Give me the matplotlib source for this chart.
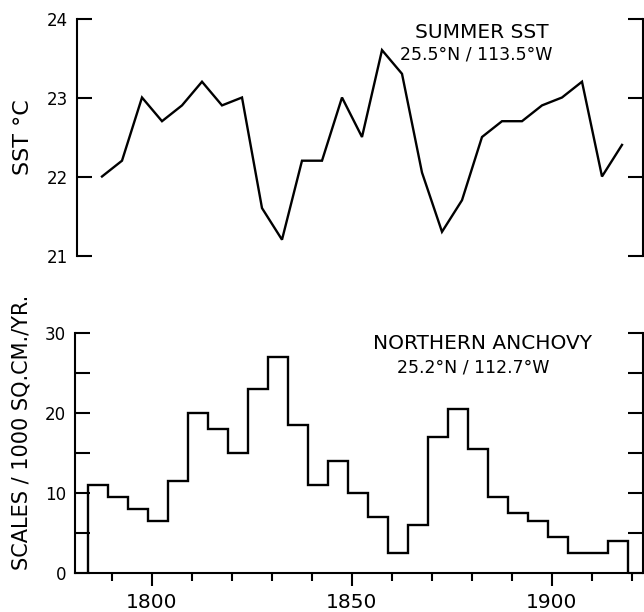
import matplotlib
matplotlib.use('Agg')
import matplotlib.pyplot as plt
from matplotlib.ticker import FixedLocator

# summer SST, 25.5N / 113.5W
sstYears = [1787.5, 1792.5, 1797.5, 1802.5, 1807.5, 1812.5, 1817.5, 1822.5, 1827.5,
            1832.5, 1837.5, 1842.5, 1847.5, 1852.5, 1857.5, 1862.5, 1867.5, 1872.5,
            1877.5, 1882.5, 1887.5, 1892.5, 1897.5, 1902.5, 1907.5, 1912.5, 1917.5]
sstValues = [22.0, 22.2, 23.0, 22.7, 22.9, 23.2, 22.9, 23.0, 21.6,
             21.2, 22.2, 22.2, 23.0, 22.5, 23.6, 23.3, 22.05, 21.3,
             21.7, 22.5, 22.7, 22.7, 22.9, 23.0, 23.2, 22.0, 22.4]

# northern anchovy scale deposition, 5-year bins
anchovyEdges = [1784, 1789, 1794, 1799, 1804, 1809, 1814, 1819, 1824, 1829,
                1834, 1839, 1844, 1849, 1854, 1859, 1864, 1869, 1874, 1879,
                1884, 1889, 1894, 1899, 1904, 1909, 1914, 1919]
anchovyValues = [11, 9.5, 8, 6.5, 11.5, 20, 18, 15, 23, 27,
                 18.5, 11, 14, 10, 7, 2.5, 6, 17, 20.5, 15.5,
                 9.5, 7.5, 6.5, 4.5, 2.5, 2.5, 4]

sstTicks = [21, 22, 23, 24]
anchovyTicks = [0, 10, 20, 30]
yearTicks = [1800, 1850, 1900]

plt.rcParams['font.family'] = 'DejaVu Sans'
W, H = 644, 612
fig = plt.figure(figsize=(W / 100, H / 100), dpi=100)


def box(left, top, right, bottom):
    return [left / W, 1 - bottom / H, (right - left) / W, (bottom - top) / H]


lw = 1.5

# ---- top panel: SST line ----
ax1 = fig.add_axes(box(77, 18.5, 643, 255.5))
ax1.plot(sstYears, sstValues, color='black', lw=1.7, solid_joinstyle='miter')
ax1.set_xlim(1781.25, 1922.75)
ax1.set_ylim(21, 24)
ax1.set_yticks(sstTicks)
ax1.set_yticklabels([str(t) for t in sstTicks])
ax1.spines['top'].set_visible(False)
ax1.spines['bottom'].set_visible(False)
for s in ['left', 'right']:
    ax1.spines[s].set_linewidth(lw)
ax1.tick_params(axis='y', which='both', direction='in', length=11, width=lw,
                left=True, right=True, labelsize=12, pad=6.5)
ax1.tick_params(axis='x', bottom=False, labelbottom=False)
ax1.text(0.715, 0.94, 'SUMMER SST', transform=ax1.transAxes, ha='center',
         va='center', fontsize=14.5)
ax1.text(0.706, 0.846, '25.5°N / 113.5°W', transform=ax1.transAxes, ha='center',
         va='center', fontsize=12.5)

# ---- bottom panel: anchovy step histogram ----
ax2 = fig.add_axes(box(75, 333, 643, 573))
ax2.stairs(anchovyValues, anchovyEdges, baseline=0, color='black', lw=1.7)
ax2.set_xlim(1780.75, 1922.75)
ax2.set_ylim(0, 30)
ax2.set_yticks(anchovyTicks)
ax2.set_yticklabels([str(t) for t in anchovyTicks])
ax2.yaxis.set_minor_locator(FixedLocator([5, 15, 25]))
ax2.set_xticks(yearTicks)
ax2.set_xticklabels([str(t) for t in yearTicks])
ax2.xaxis.set_minor_locator(FixedLocator(range(1790, 1921, 10)))
ax2.spines['top'].set_visible(False)
for s in ['left', 'right', 'bottom']:
    ax2.spines[s].set_linewidth(lw)
ax2.tick_params(axis='y', which='both', direction='in', length=11, width=lw,
                left=True, right=True, labelsize=12, pad=6.5)
ax2.tick_params(axis='x', which='major', direction='out', length=9.5, width=lw,
                labelsize=14.5, pad=5)
ax2.tick_params(axis='x', which='minor', direction='out', length=5.5, width=lw)
ax2.text(0.718, 0.958, 'NORTHERN ANCHOVY', transform=ax2.transAxes, ha='center',
         va='center', fontsize=14.5)
ax2.text(0.701, 0.858, '25.2°N / 112.7°W', transform=ax2.transAxes, ha='center',
         va='center', fontsize=12.5)

# y axis titles
fig.text(23 / W, 1 - 137 / H, 'SST °C', rotation=90, ha='center', va='center',
         fontsize=16)
fig.text(22 / W, 1 - 432 / H, 'SCALES / 1000 SQ.CM./YR.', rotation=90,
         ha='center', va='center', fontsize=15)

fig.savefig('out.png', dpi=100)
